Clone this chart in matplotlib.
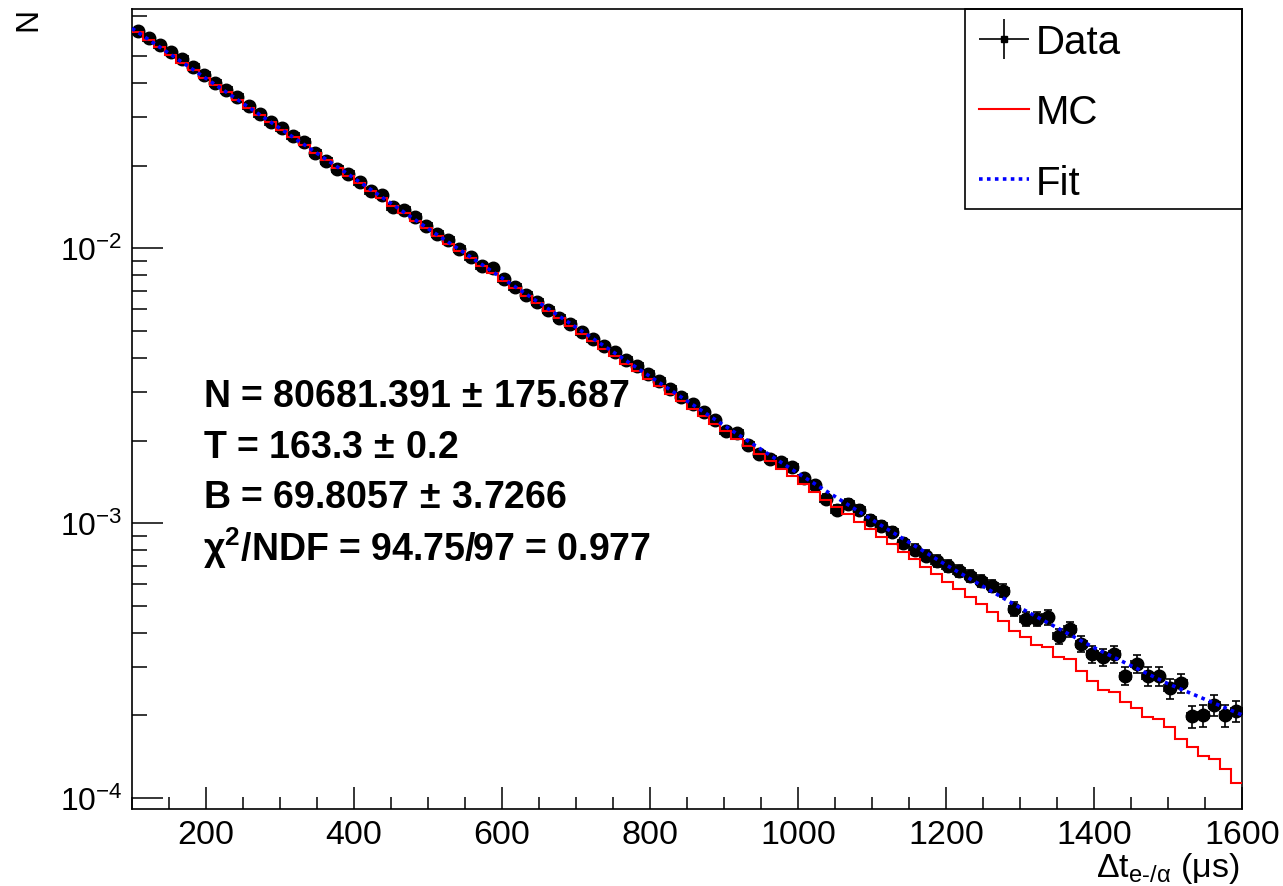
import numpy as np
import matplotlib
matplotlib.use("Agg")
import matplotlib.pyplot as plt
from matplotlib.ticker import MultipleLocator, NullFormatter, LogLocator
from matplotlib.lines import Line2D
from matplotlib.patches import Rectangle
from matplotlib.legend_handler import HandlerErrorbar
from matplotlib.container import ErrorbarContainer

plt.rcParams['font.family'] = ['Liberation Sans', 'DejaVu Sans']
plt.rcParams['mathtext.fontset'] = 'custom'
plt.rcParams['mathtext.rm'] = 'Liberation Sans'
plt.rcParams['mathtext.it'] = 'Liberation Sans:italic'
plt.rcParams['mathtext.bf'] = 'Liberation Sans:bold'
plt.rcParams['mathtext.sf'] = 'Liberation Sans'

# ---- data ----
x_edges = np.arange(100, 1601, 15)          # 100 bins of 15 us

data_vals = [
    0.0618, 0.0580, 0.0549, 0.0516, 0.0488, 0.0455, 0.0427, 0.0399, 0.0377, 0.0354,
    0.0330, 0.0308, 0.0289, 0.0273, 0.0257, 0.0243, 0.0223, 0.0208, 0.0194, 0.0186,
    0.0175, 0.0161, 0.0156, 0.0141, 0.0138, 0.0130, 0.0121, 0.0113, 0.0107, 0.00994,
    0.00927, 0.00864, 0.00846, 0.00773, 0.00721, 0.00676, 0.00636, 0.00598, 0.00556, 0.00531,
    0.00495, 0.00468, 0.00442, 0.00421, 0.00394, 0.00372, 0.00349, 0.00328, 0.00308, 0.00289,
    0.00272, 0.00255, 0.00238, 0.00217, 0.00213, 0.00193, 0.00179, 0.00172, 0.00167, 0.00160,
    0.00146, 0.00138, 0.00123, 0.00112, 0.00118, 0.00112, 0.00103, 0.000975, 0.000932, 0.000848,
    0.000802, 0.000762, 0.000731, 0.000701, 0.000672, 0.000645, 0.000618, 0.000593, 0.000569, 0.000488,
    0.000449, 0.000449, 0.000455, 0.000388, 0.000413, 0.000364, 0.000335, 0.000326, 0.000335, 0.000279,
    0.000308, 0.000278, 0.000278, 0.000251, 0.000263, 0.000199, 0.000200, 0.000218, 0.000200, 0.000208,
]

mc_vals = [
    0.0611, 0.0573, 0.0538, 0.0505, 0.0474, 0.0445, 0.0418, 0.0393, 0.0369, 0.0346,
    0.0325, 0.0305, 0.0287, 0.0269, 0.0253, 0.0237, 0.0223, 0.0209, 0.0196, 0.0184,
    0.0173, 0.0162, 0.0153, 0.0143, 0.0134, 0.0126, 0.0119, 0.0111, 0.0104, 0.00981,
    0.00921, 0.00865, 0.00812, 0.00762, 0.00716, 0.00672, 0.00631, 0.00592, 0.00556, 0.00522,
    0.00490, 0.00460, 0.00432, 0.00406, 0.00381, 0.00358, 0.00336, 0.00315, 0.00296, 0.00278,
    0.00261, 0.00245, 0.00230, 0.00216, 0.00203, 0.00191, 0.00179, 0.00168, 0.00158, 0.00148,
    0.00139, 0.00130, 0.00122, 0.00115, 0.00108, 0.00101, 0.000952, 0.000894, 0.000839, 0.000788,
    0.000740, 0.000695, 0.000652, 0.000612, 0.000575, 0.000540, 0.000507, 0.000476, 0.000442, 0.000407,
    0.000385, 0.000361, 0.000354, 0.000326, 0.000321, 0.000291, 0.000268, 0.000248, 0.000243, 0.000223,
    0.000213, 0.000197, 0.000194, 0.000181, 0.000164, 0.000153, 0.000143, 0.000139, 0.000128, 0.000114,
]

fit_x = [100, 200, 300, 400, 500, 600, 700, 800, 900, 1000, 1100, 1200, 1300, 1400, 1500, 1600]
fit_vals = [0.0631, 0.0415, 0.0273, 0.0180, 0.0118, 0.00780, 0.00516, 0.00342, 0.00227,
            0.00152, 0.00103, 0.000706, 0.000493, 0.000353, 0.000261, 0.000201]

n_events = 600000  # effective event count setting the Poisson error bars

fit_text = [
    r"N = 80681.391$\mathregular{\,\pm\,}$175.687",
    r"T = 163.3$\mathregular{\,\pm\,}$0.2",
    r"B = 69.8057$\mathregular{\,\pm\,}$3.7266",
    r"$\mathregular{\chi}^{\mathbf{2}}$/NDF = 94.75/97 = 0.977",
]

# ---- figure ----
W, H = 1283, 887
fig = plt.figure(figsize=(W / 100, H / 100), dpi=100)
ax = fig.add_axes([132 / W, 1 - 810 / H, (1242 - 132) / W, 800 / H])

data = np.array(data_vals)
centers = 0.5 * (x_edges[:-1] + x_edges[1:])
half_w = 0.5 * np.diff(x_edges)
data_err = np.sqrt(data / n_events)

eb = ax.errorbar(centers, data, xerr=half_w, yerr=data_err, fmt='o', color='black',
                 ms=9, elinewidth=1.2, capsize=2.8, capthick=1.2, zorder=2)
ax.stairs(mc_vals, x_edges, color='red', lw=1.5, baseline=None, zorder=3)
ax.plot(fit_x, fit_vals, color='blue', lw=2.6, ls=(0, (1, 1.2)), zorder=4)

ax.set_yscale('log')
ax.set_xlim(100, 1600)
ax.set_ylim(9.14e-5, 0.0742)

ax.xaxis.set_major_locator(MultipleLocator(200))
ax.xaxis.set_minor_locator(MultipleLocator(50))
ax.yaxis.set_major_locator(LogLocator(base=10))
ax.yaxis.set_minor_locator(LogLocator(base=10, subs=np.arange(2, 10)))
ax.yaxis.set_minor_formatter(NullFormatter())

ax.tick_params(which='both', direction='in', top=False, right=False, width=1.1)
ax.tick_params(axis='x', which='major', length=16, pad=7, labelsize=24.5)
ax.tick_params(axis='x', which='minor', length=8.5)
ax.tick_params(axis='y', which='major', length=22, pad=7, labelsize=23)
ax.tick_params(axis='y', which='minor', length=11)
for s in ax.spines.values():
    s.set_linewidth(1.2)

# axis titles (ROOT style)
fig.text(1240 / W, 1 - 877 / H, r"$\mathregular{\Delta t_{e\text{-}/\alpha}}$ (μs)",
         ha='right', va='baseline', fontsize=24.5)
fig.text(28 / W, 1 - 8 / H, "N", rotation=90, ha='center', va='top', fontsize=23)

# fit results
ys = [397, 448, 498, 548]
for t, yy in zip(fit_text, ys):
    fig.text(203 / W, 1 - yy / H, t, ha='left', va='center', fontsize=27, fontweight='bold')

# legend
ax.add_patch(Rectangle((0.75, 0.75), 0.25, 0.25, transform=ax.transAxes, fill=False,
                       edgecolor='black', lw=1.2, zorder=10, clip_on=False))
h_data = Line2D([], [], color='black', marker='s', ms=4.5, ls='none')
h_data_eb = ax.errorbar([], [], xerr=[], yerr=[], fmt='s', color='black', ms=4.5,
                        elinewidth=1.2, capsize=0)
h_mc = Line2D([], [], color='red', lw=1.5)
h_fit = Line2D([], [], color='blue', lw=2.6, ls=(0, (1, 1.2)))
leg = ax.legend([h_data_eb, h_mc, h_fit], ["Data", "MC", "Fit"], loc='upper left',
                bbox_to_anchor=(0.7505, 1.0), frameon=False, fontsize=29,
                handlelength=1.25, handletextpad=0.15, labelspacing=0.8,
                borderpad=0.35, borderaxespad=0,
                handler_map={ErrorbarContainer: HandlerErrorbar(xerr_size=0.62, yerr_size=0.5)})

fig.savefig("out.png", dpi=100)
